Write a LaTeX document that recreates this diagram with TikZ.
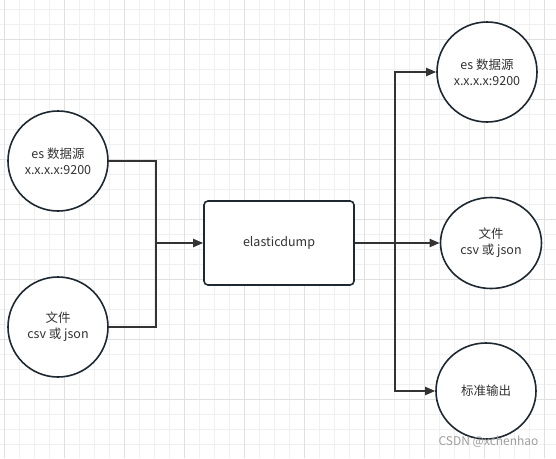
\documentclass[tikz,border=0pt]{standalone}
\usepackage{fontspec}
\setmainfont{Noto Sans CJK SC}
\usetikzlibrary{arrows.meta,shapes.geometric}
\definecolor{ink}{HTML}{333333}
\definecolor{edge}{HTML}{1E2830}
\definecolor{gminor}{HTML}{F0F0F0}
\definecolor{gmajor}{HTML}{E0E0E0}
\tikzset{
  circ/.style={ellipse, draw=edge, line width=1.6pt, fill=white, minimum width=100pt, minimum height=100pt, inner sep=0pt, align=center, text=ink, font=\fontsize{12.5}{16}\selectfont},
  boxn/.style={draw=edge, line width=1.6pt, fill=white, rounded corners=4pt, minimum width=150pt, minimum height=84pt, inner sep=0pt, text=ink, font=\fontsize{12.5}{16}\selectfont},
  conn/.style={draw=ink, line width=2pt},
  arr/.style={conn, -{Triangle[length=10pt,width=8pt]}},
}
\begin{document}
\begin{tikzpicture}[x=1pt,y=-1pt]
\useasboundingbox (0,0) rectangle (556,458);
\fill[white] (0,0) rectangle (556,458);
% grid
\foreach \i in {0,...,37} {
  \pgfmathsetmacro{\gx}{4+15*\i}
  \draw[gminor, line width=1pt] (\gx,0) -- (\gx,458);
}
\foreach \i in {-2,...,30} {
  \pgfmathsetmacro{\gy}{9.3+15*\i}
  \draw[gminor, line width=1pt] (0,\gy) -- (556,\gy);
}
\foreach \i in {0,...,9} {
  \pgfmathsetmacro{\gx}{4+60*\i}
  \draw[gmajor, line width=1pt] (\gx,0) -- (\gx,458);
}
\foreach \i in {-1,...,7} {
  \pgfmathsetmacro{\gy}{39.3+60*\i}
  \draw[gmajor, line width=1pt] (0,\gy) -- (556,\gy);
}
% nodes
\node[circ] (src1) at (58,161) {es 数据源\\x.x.x.x:9200};
\node[circ] (src2) at (58,327) {文件\\csv 或 json};
\node[boxn] (dump) at (279,243) {elasticdump};
\node[circ] (dst1) at (487,72) {es 数据源\\x.x.x.x:9200};
\node[circ, minimum width=101pt, minimum height=91pt] (dst2) at (491,243) {文件\\csv 或 json};
\node[circ, minimum height=96pt] (dst3) at (486,391) {标准输出};
% joints
\coordinate (jin) at (156,243);
\coordinate (jout) at (395,243);
\draw[conn] (src1.east) -| (jin);
\draw[conn] (src2.east) -| (jin);
\draw[arr] (jin) -- (dump.west);
\draw[conn] (dump.east) -- (jout);
\draw[arr] (jout) |- (dst1.west);
\draw[arr] (jout) -- (dst2.west);
\draw[arr] (jout) |- (dst3.west);
\node[text=gray!75, font=\fontsize{12}{14}\selectfont, anchor=east] (wm) at (542,442) {CSDN @xchenhao};
\end{tikzpicture}
\end{document}
